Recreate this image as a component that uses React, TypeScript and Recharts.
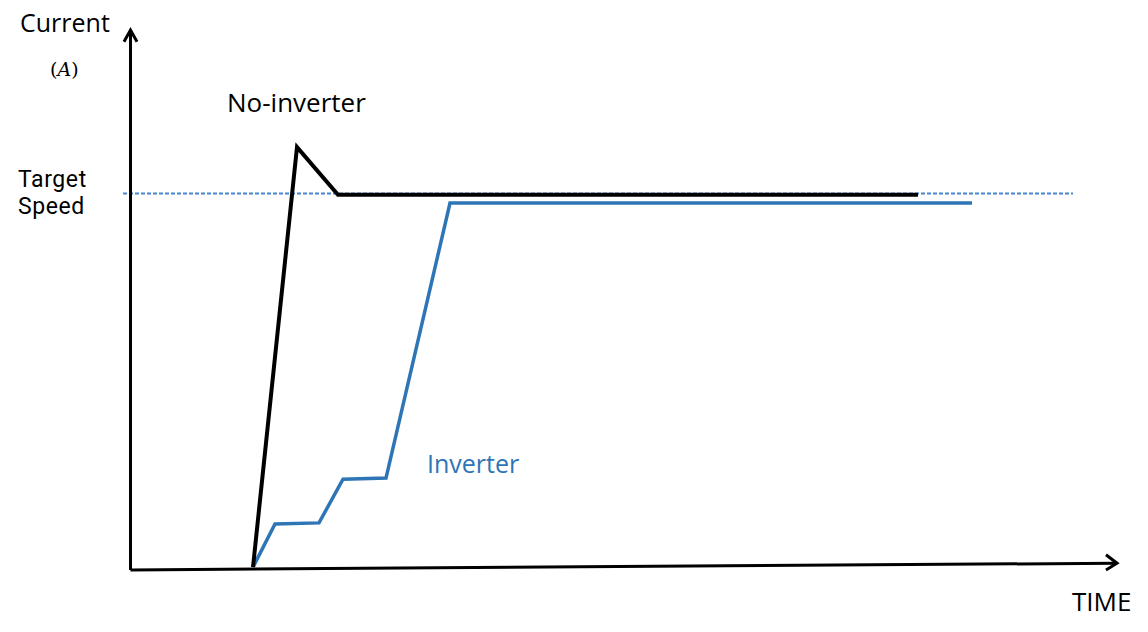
import React from 'react';
import { LineChart, Line, XAxis, YAxis } from 'recharts';

// time (x) and current (y) in chart units
const noInverterTime = [13.3, 17.7, 21.8, 79.8];
const noInverterCurrent = [2.3, 77.3, 68.8, 68.8];

const inverterTime = [13.3, 15.5, 19.9, 22.3, 26.6, 33.0, 85.2];
const inverterCurrent = [2.3, 10.0, 10.2, 18.0, 18.2, 67.3, 67.3];

const targetTime = [0.3, 95.3];
const targetCurrent = [69.0, 69.0];

// axes with arrowheads
const yAxisTime = [1.05, 1.05];
const yAxisCurrent = [1.8, 98.2];
const yArrowTime = [0.4, 1.05, 1.7];
const yArrowCurrent = [96.1, 98.2, 96.1];
const xAxisTime = [1.05, 99.7];
const xAxisCurrent = [1.8, 3.0];
const xArrowTime = [98.6, 99.7, 98.6];
const xArrowCurrent = [4.5, 3.0, 1.8];

const zip = (xs: number[], ys: number[]) => xs.map((t, i) => ({ t, v: ys[i] }));

const BLUE = '#2E75B6';
const FONT = '"Open Sans", "Noto Sans", sans-serif';

export default function App() {
  return (
    <div style={{ position: 'absolute', left: 0, top: 0, width: 1148, height: 632, background: '#fff' }}>
      <LineChart width={1148} height={632} margin={{ top: 20, right: 28, bottom: 52, left: 120 }}>
        <XAxis type="number" dataKey="t" domain={[0, 100]} hide allowDataOverflow />
        <YAxis type="number" dataKey="v" domain={[0, 100]} hide allowDataOverflow />
        <Line data={zip(targetTime, targetCurrent)} dataKey="v" stroke="#4A86D0" strokeWidth={2}
          strokeDasharray="4 2" dot={false} isAnimationActive={false} />
        <Line data={zip(yAxisTime, yAxisCurrent)} dataKey="v" stroke="#000" strokeWidth={3}
          dot={false} isAnimationActive={false} />
        <Line data={zip(yArrowTime, yArrowCurrent)} dataKey="v" stroke="#000" strokeWidth={3}
          dot={false} isAnimationActive={false} />
        <Line data={zip(xAxisTime, xAxisCurrent)} dataKey="v" stroke="#000" strokeWidth={3}
          dot={false} isAnimationActive={false} />
        <Line data={zip(xArrowTime, xArrowCurrent)} dataKey="v" stroke="#000" strokeWidth={3}
          dot={false} isAnimationActive={false} />
        <Line data={zip(inverterTime, inverterCurrent)} dataKey="v" stroke={BLUE} strokeWidth={3.5}
          dot={false} isAnimationActive={false} />
        <Line data={zip(noInverterTime, noInverterCurrent)} dataKey="v" stroke="#000" strokeWidth={4}
          dot={false} isAnimationActive={false} />
      </LineChart>
      <svg width={1148} height={632} style={{ position: 'absolute', left: 0, top: 0, pointerEvents: 'none' }}>
        <g fontFamily={FONT} fontSize={25} fill="#000">
          <text x={20} y={32}>Current</text>
          <text x={18} y={187} fontFamily="Roboto, sans-serif" fontSize={23} letterSpacing={0.6}>Target</text>
          <text x={18} y={214} fontFamily="Roboto, sans-serif" fontSize={23} letterSpacing={0.6}>Speed</text>
          <text x={227} y={112} fontSize={26}>No-inverter</text>
          <text x={427} y={473} fill={BLUE}>Inverter</text>
          <text x={1072} y={611} fontSize={26}>TIME</text>
        </g>
        <text x={50} y={76} fontFamily='"DejaVu Serif", serif' fontSize={19} fill="#000">
          (<tspan fontStyle="italic">A</tspan>)
        </text>
      </svg>
    </div>
  );
}
